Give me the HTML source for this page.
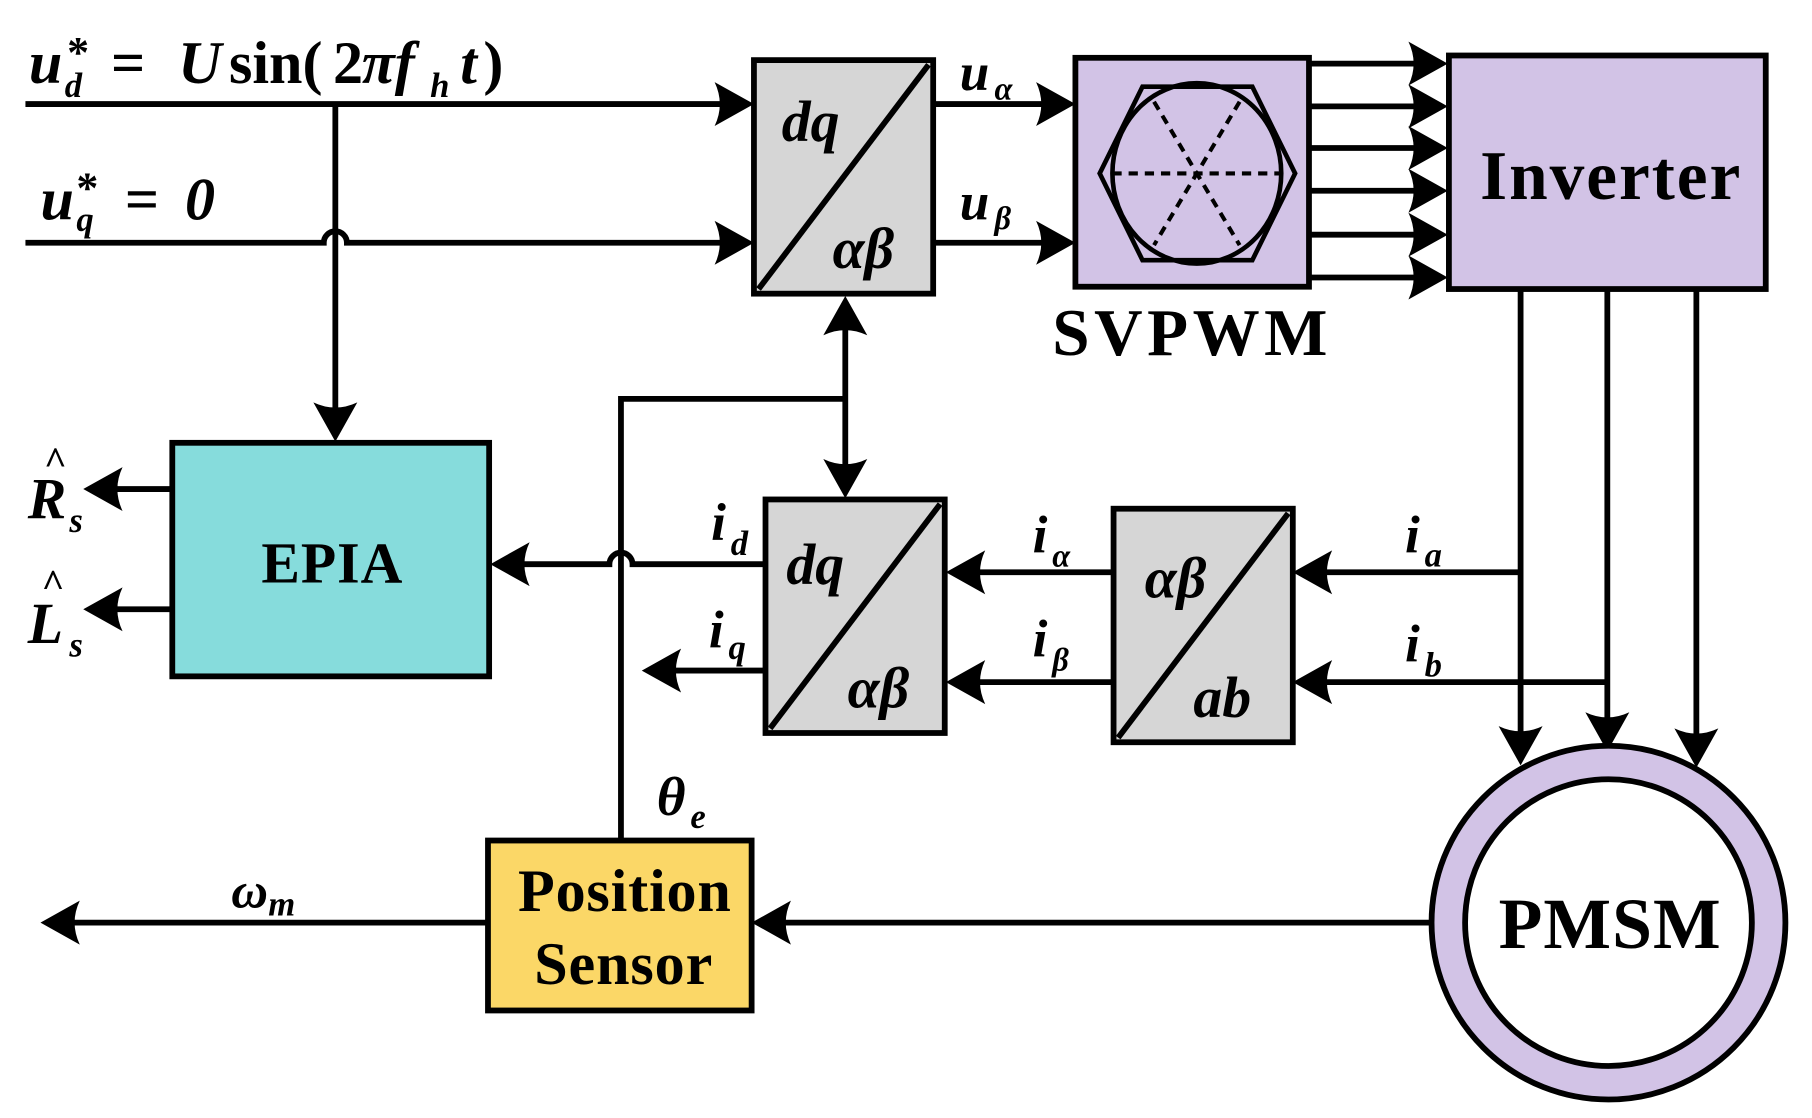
<!DOCTYPE html>
<html><head><meta charset="utf-8"><style>html,body{margin:0;padding:0;background:#fff}svg{display:block}</style></head>
<body>
<svg width="1812" height="1118" viewBox="0 0 1567 967" preserveAspectRatio="none" xmlns="http://www.w3.org/2000/svg" font-family="'Liberation Serif', serif" font-weight="bold">
<defs><path id="a" d="M0 0 L-34 -19 Q-25 0 -34 19 Z" fill="#000"/></defs>
<g stroke="#000" stroke-width="5" fill="none">
<path d="M22 90 H640"/>
<path d="M22 210 H280 A10 10 0 0 1 300 210 H640"/>
<path d="M290 90 V370"/>
<path d="M807 90 H918"/><path d="M807 210 H918"/>
<path d="M1132 55 H1240 M1132 92 H1240 M1132 128 H1240 M1132 165 H1240 M1132 203 H1240 M1132 240 H1240"/>
<path d="M1315 250 V640 M1390 250 V640 M1467 250 V650"/>
<path d="M1315 495 H1130 M1390 590 H1130"/>
<path d="M963 495 H830 M963 590 H830"/>
<path d="M662 488 H547 A10 10 0 0 0 527 488 H436"/>
<path d="M662 580 H570"/>
<path d="M149 423 H84 M149 527 H84"/>
<path d="M537 727 V345 H731"/>
<path d="M731 268 V420"/>
<path d="M1237 798 H662"/>
<path d="M422 798 H48"/>
</g>
<use href="#a" transform="translate(652,90)"/>
<use href="#a" transform="translate(652,210)"/>
<use href="#a" transform="translate(290,382) rotate(90)"/>
<use href="#a" transform="translate(930,90)"/>
<use href="#a" transform="translate(930,210)"/>
<use href="#a" transform="translate(1252,55)"/>
<use href="#a" transform="translate(1252,92)"/>
<use href="#a" transform="translate(1252,128)"/>
<use href="#a" transform="translate(1252,165)"/>
<use href="#a" transform="translate(1252,203)"/>
<use href="#a" transform="translate(1252,240)"/>
<use href="#a" transform="translate(1315,662) rotate(90)"/>
<use href="#a" transform="translate(1390,650) rotate(90)"/>
<use href="#a" transform="translate(1467,664) rotate(90)"/>
<use href="#a" transform="translate(1118,495) rotate(180)"/>
<use href="#a" transform="translate(1118,590) rotate(180)"/>
<use href="#a" transform="translate(818,495) rotate(180)"/>
<use href="#a" transform="translate(818,590) rotate(180)"/>
<use href="#a" transform="translate(424,488) rotate(180)"/>
<use href="#a" transform="translate(555,580) rotate(180)"/>
<use href="#a" transform="translate(72,423) rotate(180)"/>
<use href="#a" transform="translate(72,527) rotate(180)"/>
<use href="#a" transform="translate(731,256) rotate(-90)"/>
<use href="#a" transform="translate(731,431) rotate(90)"/>
<use href="#a" transform="translate(650,798) rotate(180)"/>
<use href="#a" transform="translate(35,798) rotate(180)"/>
<g stroke="#000" stroke-width="5">
<rect x="652" y="52" width="155" height="202" fill="#d6d6d6"/>
<path d="M656 250 L803 56" fill="none"/>
<rect x="662" y="432" width="155" height="202" fill="#d6d6d6"/>
<path d="M666 630 L813 436" fill="none"/>
<rect x="963" y="440" width="155" height="202" fill="#d6d6d6"/>
<path d="M967 638 L1114 444" fill="none"/>
<rect x="930" y="50" width="202" height="198" fill="#d2c3e6"/>
<rect x="1253" y="48" width="274" height="202" fill="#d2c3e6"/>
<rect x="149" y="383" width="274" height="202" fill="#86dcdc"/>
<rect x="422" y="727" width="228" height="147" fill="#fbd767"/>
<circle cx="1391" cy="798" r="153" fill="#d2c3e6"/>
<circle cx="1391" cy="798" r="124" fill="#fff"/>
</g>
<g stroke="#000" fill="none">
<path d="M988 75 H1083 L1120 150 L1083 225 H988 L951 150 Z" stroke-width="4"/>
<ellipse cx="1035" cy="150" rx="73" ry="78" stroke-width="4"/>
<g stroke-dasharray="8 6" stroke-width="3.5">
<path d="M962 150 H1108"/>
<path d="M998 88 L1072 212"/>
<path d="M1072 88 L998 212"/>
</g>
</g>
<g fill="#000">
<text x="25" y="72" font-size="52" font-style="italic">u</text>
<text x="56" y="84" font-size="30" font-style="italic">d</text>
<text x="58" y="58" font-size="38">*</text>
<text x="96" y="72" font-size="52">=</text>
<text x="154" y="72" font-size="52" font-style="italic">U</text>
<text x="198" y="72" font-size="52">sin(</text>
<text x="288" y="72" font-size="52">2</text>
<text x="313" y="72" font-size="52" font-style="italic">πf</text>
<text x="372" y="84" font-size="30" font-style="italic">h</text>
<text x="398" y="72" font-size="52" font-style="italic">t</text>
<text x="418" y="72" font-size="52">)</text>
<text x="35" y="190" font-size="52" font-style="italic">u</text>
<text x="66" y="200" font-size="30" font-style="italic">q</text>
<text x="66" y="175" font-size="38">*</text>
<text x="108" y="190" font-size="52">=</text>
<text x="160" y="190" font-size="52" font-style="italic">0</text>
<text x="676" y="122" font-size="50" font-style="italic">dq</text>
<text x="720" y="232" font-size="50" font-style="italic">αβ</text>
<text x="680" y="505" font-size="50" font-style="italic">dq</text>
<text x="733" y="612" font-size="50" font-style="italic">αβ</text>
<text x="990" y="517" font-size="50" font-style="italic">αβ</text>
<text x="1032" y="620" font-size="50" font-style="italic">ab</text>
<text x="830" y="78" font-size="46" font-style="italic">u</text>
<text x="860" y="86" font-size="28" font-style="italic">α</text>
<text x="830" y="190" font-size="46" font-style="italic">u</text>
<text x="860" y="198" font-size="28" font-style="italic">β</text>
<text x="910" y="307" font-size="58" textLength="238">SVPWM</text>
<text x="1280" y="172" font-size="60" textLength="225">Inverter</text>
<text x="1215" y="478" font-size="46" font-style="italic">i</text>
<text x="1232" y="490" font-size="30" font-style="italic">a</text>
<text x="1215" y="572" font-size="46" font-style="italic">i</text>
<text x="1232" y="585" font-size="30" font-style="italic">b</text>
<text x="893" y="478" font-size="46" font-style="italic">i</text>
<text x="910" y="490" font-size="28" font-style="italic">α</text>
<text x="893" y="568" font-size="46" font-style="italic">i</text>
<text x="910" y="580" font-size="28" font-style="italic">β</text>
<text x="615" y="467" font-size="46" font-style="italic">i</text>
<text x="632" y="480" font-size="30" font-style="italic">d</text>
<text x="613" y="560" font-size="46" font-style="italic">i</text>
<text x="630" y="570" font-size="30" font-style="italic">q</text>
<text x="226" y="504" font-size="50" textLength="122">EPIA</text>
<text x="24" y="448" font-size="50" font-style="italic">R</text>
<text x="38" y="410" font-size="34">^</text>
<text x="60" y="460" font-size="30" font-style="italic">s</text>
<text x="24" y="556" font-size="50" font-style="italic">L</text>
<text x="36" y="516" font-size="34">^</text>
<text x="60" y="568" font-size="30" font-style="italic">s</text>
<text x="568" y="705" font-size="48" font-style="italic">θ</text>
<text x="597" y="716" font-size="30" font-style="italic">e</text>
<text x="200" y="785" font-size="44" font-style="italic">ω</text>
<text x="232" y="792" font-size="30" font-style="italic">m</text>
<text x="448" y="788" font-size="52" textLength="184">Position</text>
<text x="462" y="851" font-size="52" textLength="154">Sensor</text>
<text x="1296" y="820" font-size="62" textLength="192">PMSM</text>
</g>
</svg>
</body></html>
